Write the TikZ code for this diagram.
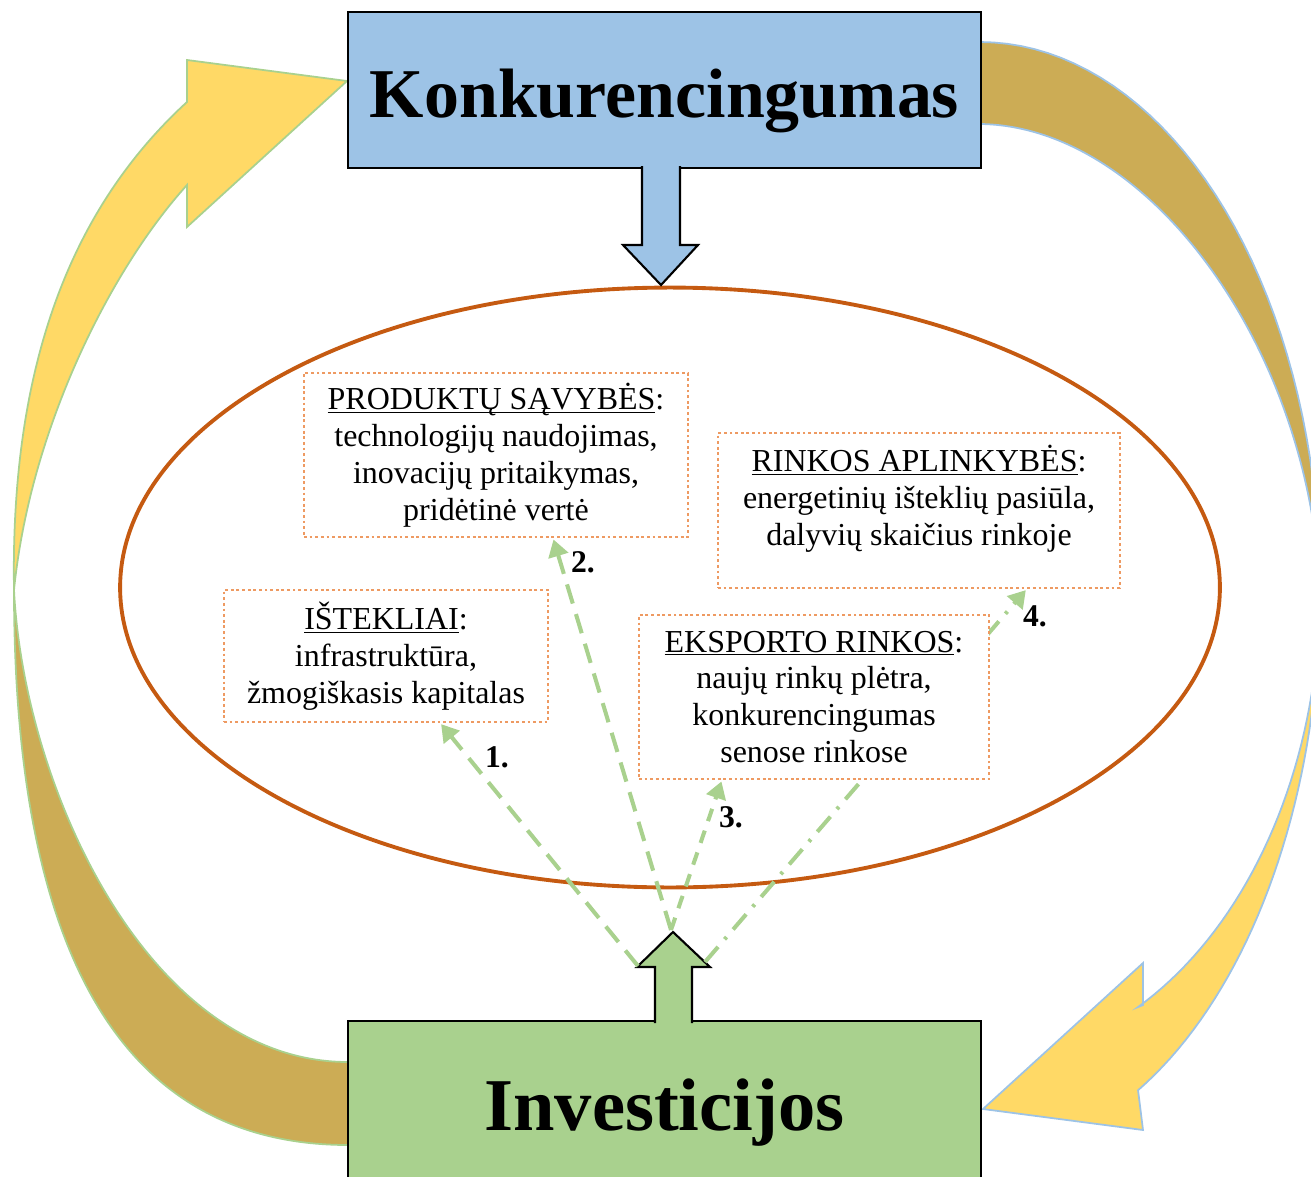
\documentclass[tikz,border=0pt]{standalone}
\usepackage{fontspec}
\setmainfont{Liberation Serif}
\usepackage{xcolor}
\usetikzlibrary{positioning}
\usetikzlibrary{arrows.meta}

\definecolor{boxblue}{HTML}{9DC3E6}
\definecolor{boxgreen}{HTML}{A9D18E}
\definecolor{arryellow}{HTML}{FFD966}
\definecolor{arrgold}{HTML}{CCAC55}
\definecolor{ringorange}{HTML}{C55A11}
\definecolor{dotorange}{HTML}{EE9A62}

\newcommand{\boxhead}[1]{\underline{\raisebox{0pt}[\height][0pt]{#1}}:}

\begin{document}
\begin{tikzpicture}[x=0.02cm,y=-0.02cm,>={Triangle[length=0.34cm,width=0.4cm]},
  bigbox/.style={draw=black,line width=1.2pt,minimum width=12.66cm,minimum height=3.12cm,text depth=0pt},
  infobox/.style={draw=dotorange,dash pattern=on 1.6pt off 1.6pt,line width=0.9pt,fill=white,align=center,font=\fontsize{18.2}{21}\selectfont},
  boxtext/.style={align=center,font=\fontsize{18.2}{21}\selectfont},
  link/.style={->,draw=boxgreen,line width=2.3pt,shorten >=1pt},
  num/.style={font=\fontsize{18}{21}\selectfont\bfseries}]
  \useasboundingbox (0,0) rectangle (1311,1176);
  \clip (0,0) rectangle (1311,1176);

  % curved arrows round the picture
  \filldraw[fill=arrgold,draw=boxgreen,line width=1pt]
    (14,590) .. controls (14,950) and (120,1145) .. (348,1145) -- (348,1062)
    .. controls (150,1062) and (24,790) .. (14,590) -- cycle;
  \filldraw[fill=arryellow,draw=boxgreen,line width=1pt]
    (14,590) .. controls (10,350) and (80,200) .. (187,102)
    -- (187,60) -- (347,81) -- (187,227) -- (187,185)
    .. controls (110,270) and (30,430) .. (14,590) -- cycle;
  \filldraw[fill=arrgold,draw=boxblue,line width=1pt]
    plot[domain=-90:0,samples=40] ({980+340*cos(\x)},{590+548*sin(\x)})
    .. controls (1310,350) and (1150,126) .. (980,124) -- cycle;
  \filldraw[fill=arryellow,draw=boxblue,line width=1pt]
    plot[domain=0:62.3,samples=40] ({980+340*cos(\x)},{590+565*sin(\x)})
    -- (1143,1130) -- (983,1109) -- (1143,963) -- (1143,1005)
    -- plot[domain=62.3:0,samples=40] ({980+340*cos(\x)},{590+471*sin(\x)}) -- cycle;

  \draw[ringorange,line width=2.2pt] (670,587.5) ellipse [x radius=11cm,y radius=6cm];

  \node[bigbox,fill=boxblue,text height=1.12cm,font=\fontsize{39.8}{44}\selectfont\bfseries] (konk) at (664.5,90) {Konkurencingumas};
  \node[bigbox,fill=boxgreen,minimum height=3.4cm,text height=0.96cm,font=\fontsize{42.4}{48}\selectfont\bfseries] (invest) at (664.5,1106) {Investicijos};

  % block arrows
  \draw[fill=boxblue,line width=1.2pt] (642,166) -- (642,245) -- (623,245) -- (661,285) -- (698,245) -- (680,245) -- (680,166);
  \draw[fill=boxgreen,line width=1.2pt] (655,1023) -- (655,967) -- (637,967) -- (673,932) -- (710,967) -- (692,967) -- (692,1023);
  \coordinate (upleft) at (638,966);
  \coordinate (uptip) at (671,930);
  \coordinate (upright) at (705,962);

  % boxes inside the ellipse
  \node[infobox,minimum width=7.68cm,minimum height=3.28cm] (produktai) at (496,455)
    {\boxhead{PRODUKTŲ SĄVYBĖS}\\technologijų naudojimas,\\inovacijų pritaikymas,\\pridėtinė vertė};
  \node[infobox,minimum width=6.48cm,minimum height=2.64cm] (istekliai) at (386,656)
    {\boxhead{IŠTEKLIAI}\\infrastruktūra,\\žmogiškasis kapitalas};
  \node[infobox,minimum width=8.04cm,minimum height=3.1cm] (rinkos) at (919,510.5) {};
  \node[boxtext,below=0.14cm of rinkos.north] (rinkostxt)
    {\boxhead{RINKOS APLINKYBĖS}\\energetinių išteklių pasiūla,\\dalyvių skaičius rinkoje};

  \draw[link,dash pattern=on 0.4cm off 0.2cm on 0.06cm off 0.2cm] (upright) -- ([xshift=2.16cm]rinkos.south);

  \node[infobox,minimum width=7cm,minimum height=3.28cm] (eksportas) at (814,697)
    {\boxhead{EKSPORTO RINKOS}\\naujų rinkų plėtra,\\konkurencingumas\\senose rinkose};

  \draw[link,dash pattern=on 0.4cm off 0.22cm] (upleft) -- ([xshift=1.08cm]istekliai.south);
  \draw[link,dash pattern=on 0.4cm off 0.22cm] (uptip) -- ([xshift=1.14cm]produktai.south);
  \draw[link,dash pattern=on 0.26cm off 0.2cm] (uptip) -- ([xshift=-1.84cm]eksportas.south);

  \node[num] (n1) at (497,757) {1.};
  \node[num] (n2) at (583,562) {2.};
  \node[num] (n3) at (731,817) {3.};
  \node[num] (n4) at (1035,616) {4.};
\end{tikzpicture}
\end{document}
